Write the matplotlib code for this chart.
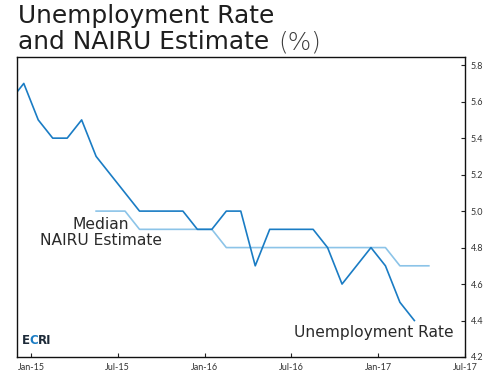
import matplotlib
matplotlib.use('Agg')
import matplotlib.pyplot as plt
import numpy as np

plt.rcParams['font.family'] = ['DejaVu Sans']

# month index: 0 = Jan-15
# Dec-14 .. Apr-17
unemp = [5.6, 5.7, 5.5, 5.4, 5.4, 5.5, 5.3, 5.2, 5.1, 5.0, 5.0, 5.0, 5.0,
         4.9, 4.9, 5.0, 5.0, 4.7, 4.9, 4.9, 4.9, 4.9, 4.8, 4.6, 4.7,
         4.8, 4.7, 4.5, 4.4]
unemp_month = list(range(-1, -1 + len(unemp)))

# Jun-15 .. May-17
nairu = [5.0, 5.0, 5.0, 4.9, 4.9, 4.9, 4.9, 4.9, 4.9, 4.8, 4.8, 4.8,
         4.8, 4.8, 4.8, 4.8, 4.8, 4.8, 4.8, 4.8, 4.8, 4.7, 4.7, 4.7]
nairu_month = list(range(5, 5 + len(nairu)))

tick_pos = [0.5, 6.5, 12.5, 18.5, 24.5, 30.5]
tick_lab = ['Jan-15', 'Jul-15', 'Jan-16', 'Jul-16', 'Jan-17', 'Jul-17']
ytick = [4.2, 4.4, 4.6, 4.8, 5.0, 5.2, 5.4, 5.6, 5.8]

fig = plt.figure(figsize=(4.95, 3.75), dpi=100)
ax = fig.add_axes([0.0343, 0.048, 0.9051, 0.80])

ax.plot(nairu_month, nairu, color='#8cc4e8', lw=1.2)
ax.plot(unemp_month, unemp, color='#1a7cc4', lw=1.2)

ax.set_xlim(-0.47, 30.43)
ax.set_ylim(4.2, 5.845)
ax.set_xticks(tick_pos)
ax.set_xticklabels(tick_lab)
ax.set_yticks(ytick)
ax.set_yticklabels(['%.1f' % v for v in ytick])
ax.yaxis.tick_right()
ax.tick_params(axis='both', direction='in', length=3, width=0.8,
               labelsize=6, labelcolor='#333333', color='#222222')
ax.tick_params(axis='y', pad=4)
ax.tick_params(axis='x', pad=4)
for lab in ax.get_xticklabels() + ax.get_yticklabels():
    lab.set_family('Lato')
    lab.set_fontsize(6.5)
for s in ax.spines.values():
    s.set_linewidth(1.0)
    s.set_color('#111111')

ax.text(0.1875, 0.415, 'Median\nNAIRU Estimate', transform=ax.transAxes,
        ha='center', va='center', fontsize=11.2, color='#2a2a2a',
        linespacing=1.1)
ax.text(0.797, 0.08, 'Unemployment Rate', transform=ax.transAxes,
        ha='center', va='center', fontsize=11.2, color='#2a2a2a')

t1 = fig.text(0.036, 0.9395, 'Unemployment Rate', fontsize=17.9, color='#1e1e1e',
              ha='left', va='baseline')
t2 = fig.text(0.036, 0.869, 'and NAIRU Estimate', fontsize=17.9, color='#1e1e1e',
              ha='left', va='baseline')

fig.canvas.draw()
r = fig.canvas.get_renderer()
inv = fig.transFigure.inverted()
bb = t2.get_window_extent(r)
x0 = inv.transform((bb.x1 + 9, 0))[0]
fig.text(x0, 0.869, '(%)', fontsize=17.9, color='#3a3a3a',
         fontweight='light', ha='left', va='baseline')

# ECRI logo
x = 0.01
for ch, c in [('E', '#1d2a38'), ('C', '#1a7cc4'), ('RI', '#1d2a38')]:
    t = ax.text(x, 0.035, ch, transform=ax.transAxes, fontsize=8.5,
                fontweight='bold', color=c, ha='left', va='bottom')
    b = t.get_window_extent(r)
    x = ax.transAxes.inverted().transform((b.x1, 0))[0]

fig.savefig('out.png', dpi=100)
